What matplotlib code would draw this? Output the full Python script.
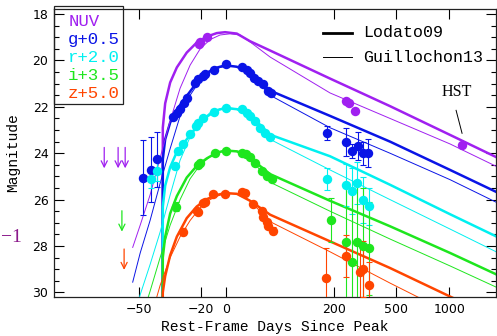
import numpy as np
import matplotlib
matplotlib.use('Agg')
import matplotlib.pyplot as plt
from matplotlib.ticker import MultipleLocator, NullLocator

T0 = 78.0  # log zero-point of the time axis (days before peak)

# ---- model curves (rest-frame days since peak, magnitude) ----
t_lodato = [-41.0, -40.95, -39.9, -37.6, -34.3, -28.9, -22.8, -15.8, -8.1, -0.9,
            10.5, 25.4, 52.9, 187, 459, 1010, 2000]
nuv_lodato = [31.0, 22.9, 21.85, 20.95, 20.3, 19.66, 19.23, 18.97, 18.82, 18.78,
              18.84, 19.17, 19.57, 20.78, 21.97, 23.21, 24.35]
g_lodato = [31.0, 24.26, 23.4, 22.68, 22.11, 21.53, 20.96, 20.53, 20.31, 20.21,
            20.27, 20.53, 21.3, 22.39, 23.5, 24.72, 25.85]
r_lodato = [31.0, 26.3, 25.4, 24.6, 23.95, 23.4, 22.85, 22.42, 22.15, 22.05,
            22.1, 22.35, 23.2, 24.13, 25.36, 26.63, 27.77]
i_lodato = [31.0, 28.5, 27.6, 26.6, 25.85, 25.05, 24.55, 24.22, 23.98, 23.88,
            23.92, 24.2, 24.9, 26.05, 27.15, 28.3, 29.4]
z_lodato = [31.0, 30.0, 29.3, 28.4, 27.6, 26.8, 26.3, 25.98, 25.8, 25.72,
            25.75, 26.05, 26.65, 27.8, 28.95, 30.18, 31.3]

t_guill = [-52.0, -49.6, -46.1, -42.1, -37.6, -32.6, -26.9, -20.5, -13.4, -5.3,
           3.8, 14.0, 25.4, 52.9, 187, 459, 1010, 2000]
nuv_guill = [28.06, 27.1, 25.8, 24.2, 22.6, 21.2, 20.2, 19.5, 19.1, 18.9,
             18.85, 18.9, 19.2, 19.85, 21.4, 22.5, 23.6, 24.75]
g_guill = [29.56, 28.3, 26.9, 25.3, 23.8, 22.4, 21.5, 20.85, 20.5, 20.3,
           20.22, 20.3, 20.55, 21.5, 22.9, 24.0, 25.14, 26.3]
r_guill = [31.2, 30.1, 28.8, 27.4, 25.8, 24.3, 23.3, 22.65, 22.25, 22.08,
           22.05, 22.1, 22.4, 23.4, 24.72, 26.0, 27.27, 28.44]
i_guill = [32.5, 31.3, 29.95, 28.5, 27.1, 26.0, 25.1, 24.5, 24.15, 23.95,
           23.88, 23.92, 24.2, 25.25, 26.5, 27.7, 28.86, 29.95]
z_guill = [34.5, 33.0, 31.2, 29.7, 28.5, 27.6, 26.9, 26.35, 26.0, 25.8,
           25.73, 25.75, 26.05, 26.95, 28.25, 29.6, 30.9, 32.0]

# ---- photometry ----
nuv_t = [-21.5, -20.5, -15.8, 241, 254, 278, 1170]
nuv_m = [19.3, 19.22, 18.98, 21.75, 21.85, 22.2, 23.66]
nuv_lim_t = [-59.4, -56.1, -54.2]
nuv_lim_m = [23.75, 23.75, 23.75]

g_t = [-48.7, -45.8, -43.5, -36, -34, -32.6, -30.4, -28.9, -23.8, -21.7, -18.3, -17,
       -10.3, -0.3, 15.8, 21.5, 25.4, 30.4, 36, 43, 50.3, 54,
       177, 241, 264, 292, 314, 338]
g_m = [25.05, 24.72, 24.26, 22.42, 22.25, 22.08, 21.82, 21.6, 20.96, 20.82, 20.67, 20.6,
       20.42, 20.17, 20.27, 20.39, 20.53, 20.74, 20.89, 21.03, 21.32, 21.42,
       23.11, 23.51, 23.9, 23.69, 24.0, 24.0]
g_e = [1.6, 1.4, 1.18, 0.05, 0.05, 0.05, 0.05, 0.05, 0.05, 0.05, 0.05, 0.05,
       0.05, 0.05, 0.05, 0.05, 0.05, 0.05, 0.05, 0.05, 0.05, 0.05,
       0.3, 0.6, 0.3, 0.6, 0.5, 0.6]

r_t = [-45.8, -43.5, -35.2, -33.5, -30.8, -26.9, -23.2, -21.7, -18.3, -10.3, -0.3,
       15.8, 21.5, 25.4, 31.7, 38.4, 45.4, 52.9,
       179, 241, 264, 288, 314, 341.5]
r_m = [25.09, 24.76, 24.55, 23.9, 23.61, 23.18, 22.83, 22.68, 22.46, 22.22, 22.03,
       22.1, 22.25, 22.4, 22.61, 22.9, 23.11, 23.32,
       25.12, 25.38, 25.62, 25.29, 26.01, 26.29]
r_e = [0.4, 0.43, 0.15, 0.05, 0.05, 0.05, 0.05, 0.05, 0.05, 0.05, 0.05,
       0.05, 0.05, 0.05, 0.05, 0.05, 0.05, 0.05,
       0.48, 0.9, 1.0, 0.9, 1.0, 0.8]

i_t = [-34.7, -21.7, -20.5, -9.5, -0.3, 15.8, 20.6, 25.4, 31.7, 40.7, 47.9, 55.5,
       189, 241, 264, 288, 314, 341.5]
i_m = [26.31, 24.5, 24.4, 24.0, 23.9, 23.97, 24.04, 24.15, 24.4, 24.76, 25.0, 25.12,
       26.87, 27.84, 28.7, 27.82, 28.01, 28.1]
i_e = [0.2, 0.05, 0.05, 0.05, 0.05, 0.05, 0.05, 0.05, 0.05, 0.05, 0.05, 0.05,
       0.95, 2.5, 3.0, 2.5, 2.5, 2.0]
i_lim_t = [-55.1]
i_lim_m = [26.48]

z_t = [-31.2, -22.8, -21.7, -18.7, -17, -10.8, -1, 15.8, 19.5, 29.5, 40.7, 43,
       47.9, 50.3, 57.1,
       175, 241, 299, 314, 341.5]
z_m = [27.38, 26.48, 26.55, 26.15, 26.09, 25.76, 25.76, 25.66, 25.72, 26.19, 26.48, 26.77,
       26.98, 27.13, 27.34,
       29.39, 28.44, 29.13, 28.99, 29.68]
z_e = [0.15, 0.05, 0.05, 0.05, 0.05, 0.05, 0.05, 0.05, 0.05, 0.1, 0.1, 0.1,
       0.1, 0.1, 0.15,
       1.3, 0.9, 1.27, 1.2, 1.0]
z_lim_t = [-54.5]
z_lim_m = [28.13]

band_labels = ['NUV', 'g+0.5', 'r+2.0', 'i+3.5', 'z+5.0']
band_colors = ['#a020f0', '#0a14e6', '#00f0f0', '#1ee61e', '#ff4500']
x_ticks = [-50, -20, 0, 200, 500, 1000]
x_ticklabels = ['\u221250', '\u221220', '0', '200', '500', '1000']

MONO = 'Liberation Mono'


def fwd(t):
    with np.errstate(invalid='ignore', divide='ignore'):
        return np.log(np.asarray(t, dtype=float) + T0)


def inv(u):
    return np.exp(u) - T0


fig = plt.figure(figsize=(4.97, 3.36), dpi=100)
ax = fig.add_axes([54 / 497, 1 - 297 / 336, 442 / 497, 288 / 336])
ax.set_xscale('function', functions=(fwd, inv))

lodato = [nuv_lodato, g_lodato, r_lodato, i_lodato, z_lodato]
guill = [nuv_guill, g_guill, r_guill, i_guill, z_guill]
for mags, col in zip(lodato, band_colors):
    ax.plot(t_lodato, mags, color=col, lw=1.8, zorder=2)
for mags, col in zip(guill, band_colors):
    ax.plot(t_guill, mags, color=col, lw=0.7, zorder=2)

# photometry
ax.plot(nuv_t, nuv_m, 'o', color=band_colors[0], ms=6.8, mec='none', zorder=4)
phot = [(g_t, g_m, g_e), (r_t, r_m, r_e), (i_t, i_m, i_e), (z_t, z_m, z_e)]
for (tt, mm, ee), col in zip(phot, band_colors[1:]):
    ax.errorbar(tt, mm, yerr=ee, fmt='o', color=col, ms=6.8, mec='none',
                elinewidth=0.8, capsize=2.2, capthick=0.8, zorder=4)

# upper limits
limits = [(nuv_lim_t, nuv_lim_m, band_colors[0]),
          (i_lim_t, i_lim_m, band_colors[3]),
          (z_lim_t, z_lim_m, band_colors[4])]
for tt, mm, col in limits:
    for t, m in zip(tt, mm):
        ax.annotate('', xy=(t, m + 0.9), xytext=(t, m),
                    arrowprops=dict(arrowstyle='->', color=col, lw=0.9,
                                    mutation_scale=11, shrinkA=0, shrinkB=0))

# HST label
ax.plot([1090, 1175], [22.15, 23.14], color='black', lw=0.7)
ax.text(1104, 21.72, 'HST', family='Liberation Serif', fontsize=11.5,
        ha='center', va='bottom')

ax.set_xlim(-67.7, 1790)
ax.set_ylim(30.2, 17.78)
ax.set_xticks(x_ticks)
ax.set_xticklabels(x_ticklabels)
ax.xaxis.set_minor_locator(NullLocator())
ax.yaxis.set_major_locator(MultipleLocator(2))
ax.yaxis.set_minor_locator(MultipleLocator(0.5))
ax.tick_params(which='both', direction='in', top=True, right=True,
               labelsize=9, width=0.8)
ax.tick_params(which='major', length=7, pad=4)
ax.tick_params(which='minor', length=3.5)
for sp in ax.spines.values():
    sp.set_linewidth(0.9)
    sp.set_color('#222222')

ax.set_xlabel('Rest-Frame Days Since Peak', family=MONO, fontsize=10.5, labelpad=3)
ax.set_ylabel('Magnitude', family=MONO, fontsize=10.5, labelpad=9)

# band legend box (top-left)
ax.add_patch(plt.Rectangle((0, 0.670), 0.156, 0.34, transform=ax.transAxes,
                           fill=False, edgecolor='#222222', lw=0.9, clip_on=False))
for k, (lab, col) in enumerate(zip(band_labels, band_colors)):
    ax.text(0.032, 0.958 - k * 0.063, lab, transform=ax.transAxes, color=col,
            family=MONO, fontsize=12.5, va='center', ha='left')

# model legend (top-right)
ax.plot([0.609, 0.674], [0.917, 0.917], transform=ax.transAxes, color='black', lw=2.0)
ax.plot([0.609, 0.674], [0.833, 0.833], transform=ax.transAxes, color='black', lw=0.7)
ax.text(0.699, 0.917, 'Lodato09', transform=ax.transAxes, family=MONO,
        fontsize=12, va='center')
ax.text(0.699, 0.833, 'Guillochon13', transform=ax.transAxes, family=MONO,
        fontsize=12, va='center')

# label edge from a neighbouring panel
fig.text(0.002, 1 - 237 / 336, '\u22121', color='#8b1a8b',
         family='Liberation Serif', fontsize=14, va='center', ha='left')

fig.savefig('out.png', dpi=100)
